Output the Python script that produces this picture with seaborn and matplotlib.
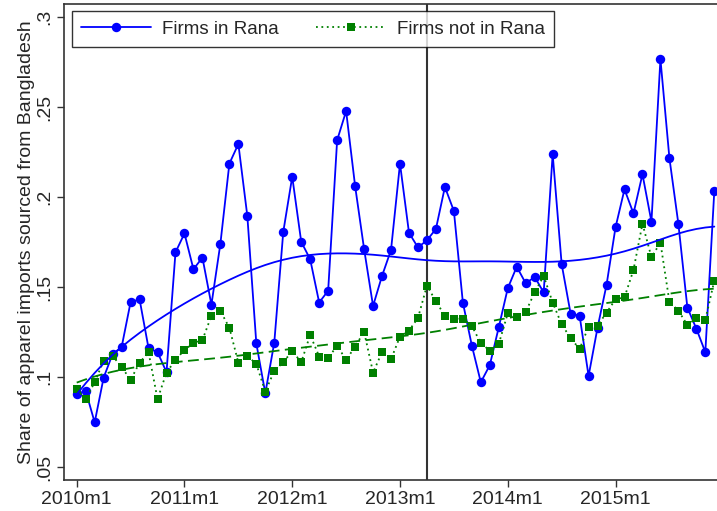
import numpy as np
import pandas as pd
import matplotlib
matplotlib.use("Agg")
import matplotlib.pyplot as plt
import seaborn as sns

# monthly series, 2010m1 .. 2015m12
month = list(range(72))
rana = [0.0907, 0.0924, 0.0749, 0.0998, 0.1129, 0.1167, 0.1417, 0.1433, 0.1161, 0.1139,
        0.1028, 0.1694, 0.1799, 0.1600, 0.1665, 0.1403, 0.1742, 0.2187, 0.2296, 0.1896,
        0.1188, 0.0911, 0.1192, 0.1807, 0.2114, 0.1753, 0.1655, 0.1415, 0.1481, 0.2317,
        0.2479, 0.2063, 0.1713, 0.1396, 0.1563, 0.1707, 0.2187, 0.1803, 0.1721, 0.1761,
        0.1824, 0.2057, 0.1924, 0.1415, 0.1176, 0.0972, 0.1067, 0.1278, 0.1494, 0.1614,
        0.1522, 0.1557, 0.1471, 0.2240, 0.1629, 0.1353, 0.1342, 0.1007, 0.1276, 0.1513,
        0.1833, 0.2044, 0.1910, 0.2128, 0.1864, 0.2768, 0.2218, 0.1852, 0.1387, 0.1270,
        0.1139, 0.2035]
not_rana = [0.0933, 0.0878, 0.0972, 0.1092, 0.1118, 0.1057, 0.0985, 0.1081, 0.1139, 0.0878,
            0.1026, 0.1096, 0.1152, 0.1189, 0.1207, 0.1341, 0.1368, 0.1275, 0.1081, 0.1118,
            0.1074, 0.0920, 0.1035, 0.1083, 0.1146, 0.1083, 0.1235, 0.1115, 0.1106, 0.1176,
            0.1096, 0.1170, 0.1253, 0.1026, 0.1139, 0.1100, 0.1226, 0.1259, 0.1329, 0.1509,
            0.1422, 0.1341, 0.1326, 0.1324, 0.1285, 0.1189, 0.1148, 0.1185, 0.1355, 0.1333,
            0.1363, 0.1472, 0.1563, 0.1415, 0.1294, 0.1217, 0.1157, 0.1281, 0.1287, 0.1359,
            0.1433, 0.1444, 0.1596, 0.1853, 0.1667, 0.1748, 0.1420, 0.1370, 0.1290, 0.1327,
            0.1318, 0.1537]

xtick_pos = [0, 12, 24, 36, 48, 60]
xtick_lab = ["2010m1", "2011m1", "2012m1", "2013m1", "2014m1", "2015m1"]
ytick_pos = [0.05, 0.1, 0.15, 0.2, 0.25, 0.3]
ytick_lab = [".05", ".1", ".15", ".2", ".25", ".3"]
rana_month = 39  # 2013m4


def lowess(x, y, bw=0.8):
    # local linear, tricube weights, symmetric window (as stata's lowess)
    x = np.asarray(x, float)
    y = np.asarray(y, float)
    n = len(x)
    k = int((n * bw - 0.5) // 2)
    out = np.empty(n)
    for i in range(n):
        lo, hi = max(0, i - k), min(n - 1, i + k)
        xs, ys = x[lo:hi + 1], y[lo:hi + 1]
        d = 1.0001 * max(x[hi] - x[i], x[i] - x[lo])
        w = (1 - (np.abs(xs - x[i]) / d) ** 3) ** 3
        W = np.sum(w)
        xm = np.sum(w * xs) / W
        ym = np.sum(w * ys) / W
        b = np.sum(w * (xs - xm) * (ys - ym)) / np.sum(w * (xs - xm) ** 2)
        out[i] = ym + b * (x[i] - xm)
    return out


df = pd.DataFrame({"month": month, "rana": rana, "not_rana": not_rana})
df["rana_fit"] = lowess(df["month"], df["rana"])
df["not_rana_fit"] = lowess(df["month"], df["not_rana"])

sns.set_style("white")
plt.rcParams["font.family"] = ["Liberation Sans", "DejaVu Sans"]

fig = plt.figure(figsize=(7.17, 5.11), dpi=100)
ax = fig.add_axes([0.0897, 0.0607, 0.9103, 0.9315])

blue = "#0000ff"
green = "#008000"

sns.lineplot(data=df, x="month", y="rana", ax=ax, color=blue, lw=1.3,
             marker="o", markersize=6.8, markeredgewidth=0, label="Firms in Rana")
sns.lineplot(data=df, x="month", y="not_rana", ax=ax, color=green, lw=1.3, linestyle=(0, (1, 2)),
             marker="s", markersize=6.2, markeredgewidth=0, label="Firms not in Rana")

# smoothed trends
sns.lineplot(data=df, x="month", y="rana_fit", ax=ax, color=blue, lw=1.3)
sns.lineplot(data=df, x="month", y="not_rana_fit", ax=ax, color=green, lw=1.3,
             linestyle=(0, (6, 3)))

ax.axvline(rana_month, color="#333333", lw=1.5, zorder=0)

ax.set_xlim(-1.38, 71.3)
ax.set_ylim(0.0429, 0.3074)
ax.set_xticks(xtick_pos)
ax.set_xticklabels(xtick_lab)
ax.set_yticks(ytick_pos)
ax.set_yticklabels(ytick_lab, rotation=90, va="center")
ax.tick_params(axis="both", which="major", labelsize=14, length=5, width=1,
               color="#333333", direction="out", pad=3)
ax.tick_params(axis="x", bottom=True)
ax.tick_params(axis="y", left=True)
ax.set_xlabel("")
ax.set_ylabel("Share of apparel imports sourced from Bangladesh", fontsize=14, labelpad=1)

for side in ["left", "bottom", "top"]:
    ax.spines[side].set_color("#333333")
    ax.spines[side].set_linewidth(1.2)
ax.spines["right"].set_visible(False)

h, l = ax.get_legend_handles_labels()
leg = ax.legend(h[:2], l[:2], loc="upper left", ncol=2, fontsize=13.5, frameon=True,
                fancybox=False, edgecolor="black", borderaxespad=0.4, handlelength=3.7,
                handletextpad=0.6, columnspacing=2.0, borderpad=0.5)
leg.get_frame().set_linewidth(1.0)

fig.savefig("out.png", dpi=100)
